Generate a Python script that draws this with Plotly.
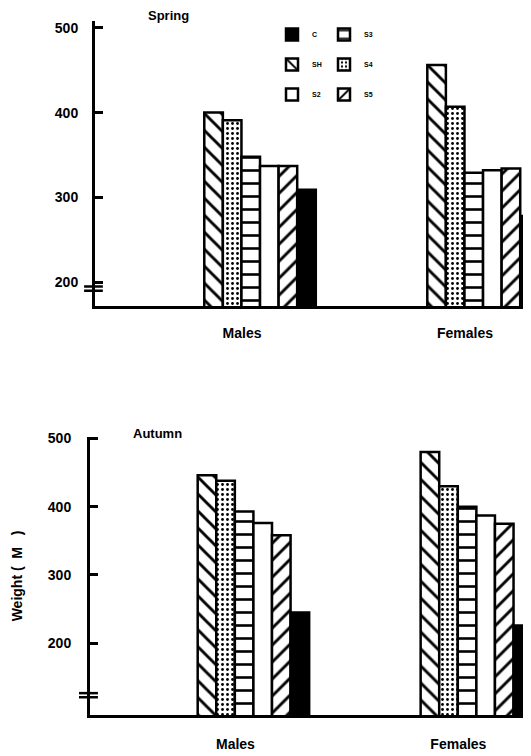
import plotly.graph_objects as go

categories = ["Males", "Females"]
series = ["SH", "S4", "S3", "S2", "S5", "C"]
spring = {
    "SH": [400, 456],
    "S4": [391, 407],
    "S3": [348, 329],
    "S2": [337, 332],
    "S5": [337, 334],
    "C": [309, 278],
}
autumn = {
    "SH": [446, 480],
    "S4": [438, 430],
    "S3": [393, 400],
    "S2": [376, 387],
    "S5": [358, 375],
    "C": [245, 226],
}
y_ticks = [200, 300, 400, 500]

styles = {
    "SH": dict(shape="\\", size=12, solidity=0.24),
    "S4": dict(shape=".", size=5, solidity=0.25),
    "S3": dict(shape="-", size=13, solidity=0.2),
    "S2": dict(shape="", size=8, solidity=0.2),
    "S5": dict(shape="/", size=12, solidity=0.24),
    "C": None,
}
legend_of = {"C": ("legend", 1), "SH": ("legend", 2), "S2": ("legend", 3),
             "S3": ("legend2", 1), "S4": ("legend2", 2), "S5": ("legend2", 3)}

fig = go.Figure()
for panel, data, xa, ya in [(0, spring, "x", "y"), (1, autumn, "x2", "y2")]:
    for s in series:
        st = styles[s]
        if st is None:
            marker = dict(color="black", line=dict(color="black", width=2.5))
        else:
            marker = dict(color="white", line=dict(color="black", width=2.5),
                          pattern=dict(shape=st["shape"], size=st["size"],
                                       solidity=st["solidity"], fgcolor="black",
                                       fgopacity=1, bgcolor="white",
                                       fillmode="overlay"))
        lg, rank = legend_of[s]
        fig.add_trace(go.Bar(
            x=categories, y=data[s], name=s, marker=marker,
            xaxis=xa, yaxis=ya, showlegend=(panel == 0),
            legend=lg, legendrank=rank, legendgroup=s,
        ))

# page has an 8px body margin; figure fills the rest of the window
W, H = 523, 748
axis_font = dict(family="Liberation Sans", size=14, color="black", weight=700)

fig.update_layout(
    width=W, height=H,
    margin=dict(l=0, r=0, t=0, b=0, autoexpand=False),
    paper_bgcolor="white", plot_bgcolor="white",
    barmode="group", bargap=0.5, bargroupgap=0,
    font=dict(family="Liberation Sans", color="black"),
    xaxis=dict(domain=[87 / W, 1], range=[-0.74, 1.215], showline=True,
               linewidth=3, linecolor="black", ticks="", showgrid=False,
               tickfont=axis_font, ticklabelshift=-18, ticklabelstandoff=12,
               anchor="y", automargin=False),
    yaxis=dict(domain=[1 - 298 / H, 1 - 13 / H], range=[172, 508],
               showline=True, linewidth=3, linecolor="black", ticks="inside",
               ticklen=8, tickwidth=2.5, tickcolor="black", tickvals=y_ticks,
               showgrid=False, zeroline=False, tickfont=axis_font,
               ticklabelstandoff=11, anchor="x", automargin=False),
    xaxis2=dict(domain=[82 / W, 1], range=[-0.733, 1.245], showline=True,
                linewidth=3, linecolor="black", ticks="", showgrid=False,
                tickfont=axis_font, ticklabelshift=-18, ticklabelstandoff=14,
                anchor="y2", automargin=False),
    yaxis2=dict(domain=[1 - 707 / H, 1 - 429 / H], range=[95, 502],
                showline=True, linewidth=3, linecolor="black", ticks="inside",
                ticklen=8, tickwidth=2.5, tickcolor="black", tickvals=y_ticks,
                showgrid=False, zeroline=False, tickfont=axis_font,
                ticklabelstandoff=13, anchor="x2", automargin=False,
                title=dict(text="Weight (&nbsp;&nbsp;M&nbsp;&nbsp;&nbsp;)",
                           standoff=22,
                           font=dict(family="Liberation Sans", size=14,
                                     color="black", weight=700))),
    legend=dict(x=264 / W, y=1 - 12 / H, xanchor="left", yanchor="top",
                bgcolor="rgba(0,0,0,0)", tracegroupgap=11,
                traceorder="grouped",
                font=dict(family="Liberation Sans", size=7, weight=700)),
    legend2=dict(x=316 / W, y=1 - 12 / H, xanchor="left", yanchor="top",
                 bgcolor="rgba(0,0,0,0)", tracegroupgap=11,
                 traceorder="grouped",
                 font=dict(family="Liberation Sans", size=7, weight=700)),
    annotations=[
        dict(text="Spring", xref="paper", yref="paper", x=160 / W, y=1 - 7 / H,
             xanchor="center", yanchor="middle",
             showarrow=False, font=dict(size=13, weight=700, color="black")),
        dict(text="Autumn", xref="paper", yref="paper", x=149 / W, y=1 - 425 / H,
             xanchor="center", yanchor="middle",
             showarrow=False, font=dict(size=13, weight=700, color="black")),
    ],
    shapes=[
        dict(type="line", xref="x domain", yref="y", x0=-0.025, x1=0.018,
             y0=195, y1=195, line=dict(color="black", width=2.5)),
        dict(type="line", xref="x domain", yref="y", x0=-0.025, x1=0.018,
             y0=190, y1=190, line=dict(color="black", width=2.5)),
        dict(type="line", xref="x2 domain", yref="y2", x0=-0.025, x1=0.018,
             y0=127, y1=127, line=dict(color="black", width=2.5)),
        dict(type="line", xref="x2 domain", yref="y2", x0=-0.025, x1=0.018,
             y0=121, y1=121, line=dict(color="black", width=2.5)),
    ],
)

fig.write_html("out.html")
